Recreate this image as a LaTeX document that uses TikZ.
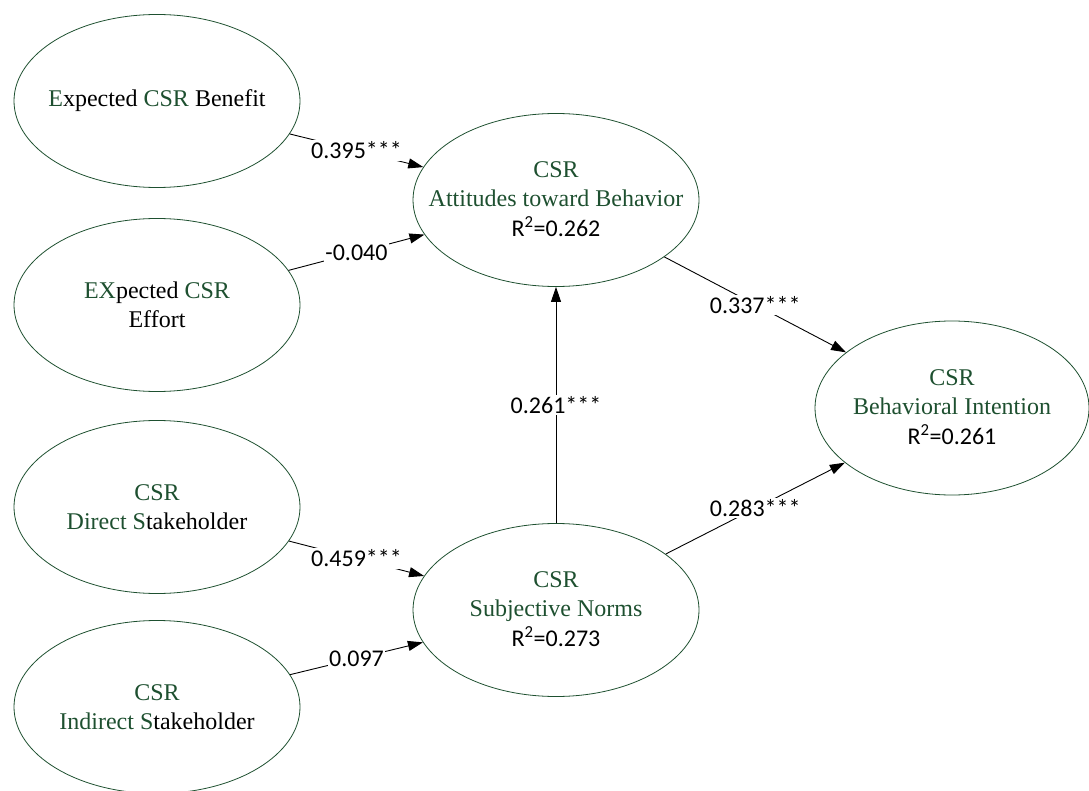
\documentclass[tikz,border=0pt]{standalone}
\usepackage{fontspec}
\setmainfont{Liberation Serif}
\newfontfamily\calfont{Carlito}
\usetikzlibrary{shapes.geometric,arrows.meta}
\definecolor{csrgreen}{HTML}{1E5030}
\newcommand\grn[1]{\textcolor{csrgreen}{#1}}
\tikzset{
  latent/.style={ellipse, draw=csrgreen, line width=0.8pt, minimum width=286pt, minimum height=173pt, inner sep=0pt},
  ltext/.style={align=center, inner sep=0pt, font=\fontsize{24}{29.5}\selectfont},
  path/.style={draw=black, line width=0.9pt, -{Triangle[length=15pt,width=10pt]}},
  coef/.style={midway, fill=white, inner sep=1.5pt, font=\calfont\fontsize{24}{28}\selectfont}
}
\begin{document}
\begin{tikzpicture}[x=1pt,y=-1pt]
\useasboundingbox (0,0) rectangle (1089,791);
\node[latent] (ben) at (157,101) {};
\node[latent] (eff) at (157,305) {};
\node[latent] (dir) at (157,507) {};
\node[latent] (ind) at (157,707) {};
\node[latent] (att) at (556,200) {};
\node[latent] (sn)  at (556,610) {};
\node[latent, minimum width=274pt, minimum height=174pt] (bi) at (952,408) {};

\node[ltext] (tben) at (ben) {\grn{E}xpected \grn{CSR} Benefit};
\node[ltext] (teff) at (eff) {\grn{EX}pected \grn{CSR}\\Effort};
\node[ltext] (tdir) at (dir) {\grn{CSR}\\\grn{Direct S}takeholder};
\node[ltext] (tind) at (ind) {\grn{CSR}\\\grn{Indirect S}takeholder};
\node[ltext] (tatt) at ([yshift=1pt]att) {\grn{CSR}\\\grn{Attitudes toward Behavior}\\{\calfont R\textsuperscript{2}=0.262}};
\node[ltext] (tsn) at ([yshift=1pt]sn) {\grn{CSR}\\\grn{Subjective Norms}\\{\calfont R\textsuperscript{2}=0.273}};
\node[ltext] (tbi) at ([yshift=1pt]bi) {\grn{CSR}\\\grn{Behavioral Intention}\\{\calfont R\textsuperscript{2}=0.261}};

\draw[path] (ben) -- node[coef] {0.395***} (att);
\draw[path] (eff) -- node[coef] {-0.040} (att);
\draw[path] (att) -- node[coef] {0.337***} (bi);
\draw[path] (sn) -- node[coef] {0.261***} (att);
\draw[path] (sn) -- node[coef] {0.283***} (bi);
\draw[path] (dir) -- node[coef] {0.459***} (sn);
\draw[path] (ind) -- node[coef] {0.097} (sn);
\end{tikzpicture}
\end{document}
